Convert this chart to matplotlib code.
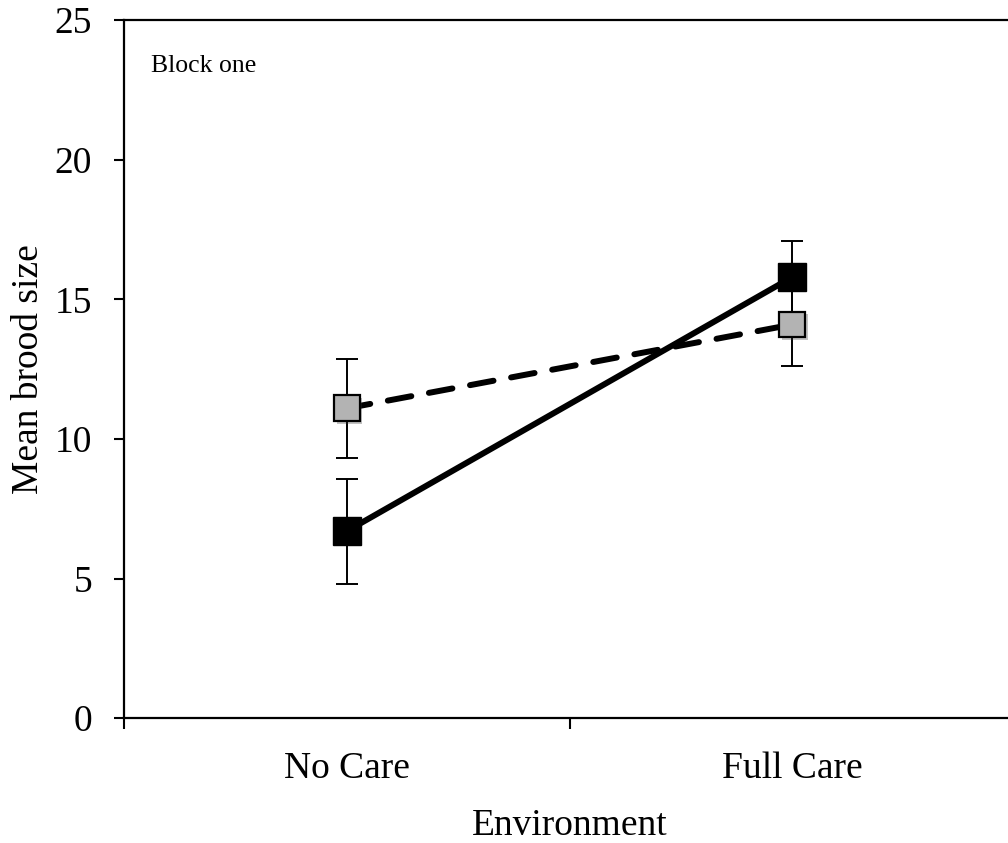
import matplotlib.pyplot as plt
import matplotlib.patheffects as pe
from matplotlib.ticker import FixedLocator

categories = ["No Care", "Full Care"]
black_means = [6.7, 15.8]
black_err = [1.88, 1.3]
grey_means = [11.1, 14.1]
grey_err = [1.78, 1.5]
y_ticks = [0, 5, 10, 15, 20, 25]

plt.rcParams['font.family'] = ['Liberation Serif', 'DejaVu Serif']

fig = plt.figure(figsize=(10.08, 8.43), dpi=100)
ax = fig.add_axes([0.123, 0.148, 0.884, 0.828])

pos = [0.5, 1.5]
shadow = [pe.SimplePatchShadow(offset=(2, -2), alpha=0.3), pe.Normal()]

ax.errorbar(pos, black_means, yerr=black_err, fmt='none', ecolor='black',
            elinewidth=1.4, capsize=8, capthick=1.4, zorder=2)
ax.errorbar(pos, grey_means, yerr=grey_err, fmt='none', ecolor='black',
            elinewidth=1.4, capsize=8, capthick=1.4, zorder=2)

ax.plot(pos, black_means, color='black', linewidth=4.3, solid_capstyle='round',
        zorder=3)
ax.plot(pos, black_means, linestyle='none', marker='s', markersize=20,
        markerfacecolor='black', markeredgecolor='black', zorder=4)

ax.plot(pos, grey_means, color='black', linewidth=4.3, linestyle=(0, (4, 3)),
        dash_capstyle='round', zorder=3)
ax.plot(pos, grey_means, linestyle='none', marker='s', markersize=18.5,
        markerfacecolor='#b3b3b3', markeredgecolor='black',
        markeredgewidth=1.6, zorder=5, path_effects=shadow)

ax.set_xlim(0, 2)
ax.set_ylim(0, 25)
ax.set_yticks(y_ticks)
ax.xaxis.set_major_locator(FixedLocator([0, 1, 2]))
ax.xaxis.set_minor_locator(FixedLocator(pos))
ax.set_xticklabels([])
ax.set_xticklabels(categories, minor=True)
ax.tick_params(axis='x', which='minor', length=0, pad=24, labelsize=27)
ax.tick_params(axis='x', which='major', length=8, width=1.5, direction='out')
ax.tick_params(axis='y', length=7, width=1.5, direction='out', pad=16,
               labelsize=27)

for s in ax.spines.values():
    s.set_linewidth(1.6)

ax.set_xlabel("Environment", fontsize=27, labelpad=16)
ax.set_ylabel("Mean brood size", fontsize=27, labelpad=6)

ax.text(0.03, 0.95, "Block one", transform=ax.transAxes, fontsize=18.5,
        va='top', ha='left')

fig.savefig("out.png", dpi=100)
